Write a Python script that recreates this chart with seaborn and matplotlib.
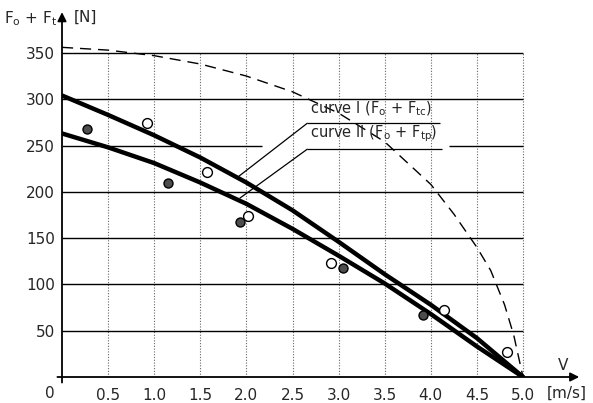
import numpy as np
import seaborn as sns
import matplotlib.pyplot as plt

# data
speed = [0, 0.5, 1.0, 1.5, 2.0, 2.5, 3.0, 3.5, 4.0, 4.5, 5.0]
curve_1 = [304, 283, 261, 237, 210, 180, 146, 111, 78, 42, 0]
curve_2 = [263, 248, 231, 210, 187, 160, 131, 101, 68, 33, 0]

dash_speed = [0, 0.5, 1.0, 1.5, 2.0, 2.5, 3.0, 3.5, 4.0, 4.25, 4.5, 4.65, 4.8, 4.9, 5.0]
dash_force = [356, 353, 347, 338, 325, 308, 285, 254, 208, 176, 140, 115, 78, 45, 0]

open_speed = [0.92, 1.57, 2.02, 2.92, 4.14, 4.83]
open_force = [274, 221, 174, 123, 72, 27]
filled_speed = [0.27, 1.15, 1.93, 3.05, 3.92]
filled_force = [268, 210, 167, 118, 67]

x_ticks = [0.5, 1.0, 1.5, 2.0, 2.5, 3.0, 3.5, 4.0, 4.5, 5.0]
x_labels = ['0.5', '1.0', '1.5', '2.0', '2.5', '3.0', '3.5', '4.0', '4.5', '5.0']
y_ticks = [50, 100, 150, 200, 250, 300, 350]

sns.set_style('white')
plt.rcParams['font.family'] = ['DejaVu Sans']
plt.rcParams['mathtext.fontset'] = 'dejavusans'

W, H = 593, 403
fig = plt.figure(figsize=(W / 100, H / 100), dpi=100)
# axes: x=0 at px 62, y=0 at px 377 (from top)
ax = fig.add_axes([62 / W, 26 / H, 528 / W, 372 / H])
ax.set_xlim(0, 528 / 92.2)
ax.set_ylim(0, 372 / 0.926)
for s in ax.spines.values():
    s.set_visible(False)

# grid: dotted verticals, solid horizontals (250 line broken by labels)
ax.vlines(x_ticks, 0, 350, colors='0.4', linestyles=(0, (1, 1.5)), lw=0.8)
for yv in y_ticks:
    if yv == 250:
        ax.hlines(yv, 0, 2.17, colors='k', lw=1.0)
        ax.hlines(yv, 4.2, 5.0, colors='k', lw=1.0)
    else:
        ax.hlines(yv, 0, 5.0, colors='k', lw=1.0)

# axes with arrows
ax.annotate('', xy=(5.64, 0), xytext=(-0.08, 0),
            arrowprops=dict(arrowstyle='-|>', lw=1.3, color='k', mutation_scale=13),
            annotation_clip=False)
ax.annotate('', xy=(0, 397), xytext=(0, -9),
            arrowprops=dict(arrowstyle='-|>', lw=1.3, color='k', mutation_scale=13),
            annotation_clip=False)

# curves
sns.lineplot(x=dash_speed, y=dash_force, ax=ax, color='k', lw=1.0,
             linestyle=(0, (8, 5)), sort=False, estimator=None)
sns.lineplot(x=speed, y=curve_1, ax=ax, color='k', lw=3.2, sort=False, estimator=None)
sns.lineplot(x=speed, y=curve_2, ax=ax, color='k', lw=3.2, sort=False, estimator=None)

# measured points
sns.scatterplot(x=open_speed, y=open_force, ax=ax, s=50, marker='o',
                facecolor='white', edgecolor='k', linewidth=1.0, zorder=5)
sns.scatterplot(x=filled_speed, y=filled_force, ax=ax, s=42, marker='o',
                facecolor='0.3', edgecolor='k', linewidth=1.0, zorder=5)

# curve labels with leader lines
lab_x0, lab_x1 = 2.66, 4.1
ax.text(2.69, 280, r'curve I (F$_\mathrm{o}$ + F$_\mathrm{tc}$)', fontsize=10.5,
        va='bottom', ha='left')
ax.text(2.69, 252, r'curve II (F$_\mathrm{o}$ + F$_\mathrm{tp}$)', fontsize=10.5,
        va='bottom', ha='left')
ax.hlines(274, lab_x0, lab_x1, colors='k', lw=0.9)
ax.hlines(246, lab_x0, lab_x1 + 0.02, colors='k', lw=0.9)
p1 = 1.90
p2 = 1.93
ax.plot([lab_x0, p1], [274, np.interp(p1, speed, curve_1)], color='k', lw=0.9)
ax.plot([lab_x0, p2], [246, np.interp(p2, speed, curve_2) + 3], color='k', lw=0.9)

# ticks
ax.set_xticks(x_ticks)
ax.set_xticklabels(x_labels)
ax.set_yticks(y_ticks)
ax.tick_params(axis='both', length=0, labelsize=11)
ax.tick_params(axis='x', pad=8)
ax.tick_params(axis='y', pad=5)

# axis titles
fig.text(50 / W, 1 - 393 / H, '0', fontsize=11, ha='center', va='center')
fig.text(4 / W, 1 - 19 / H, r'F$_\mathrm{o}$ + F$_\mathrm{t}$', fontsize=11,
         ha='left', va='center')
fig.text(74 / W, 1 - 17 / H, '[N]', fontsize=11, ha='left', va='center')
fig.text(563 / W, 1 - 365 / H, 'V', fontsize=11, ha='center', va='center')
fig.text(567 / W, 1 - 393 / H, '[m/s]', fontsize=11, ha='center', va='center')

fig.savefig('out.png', dpi=100)
